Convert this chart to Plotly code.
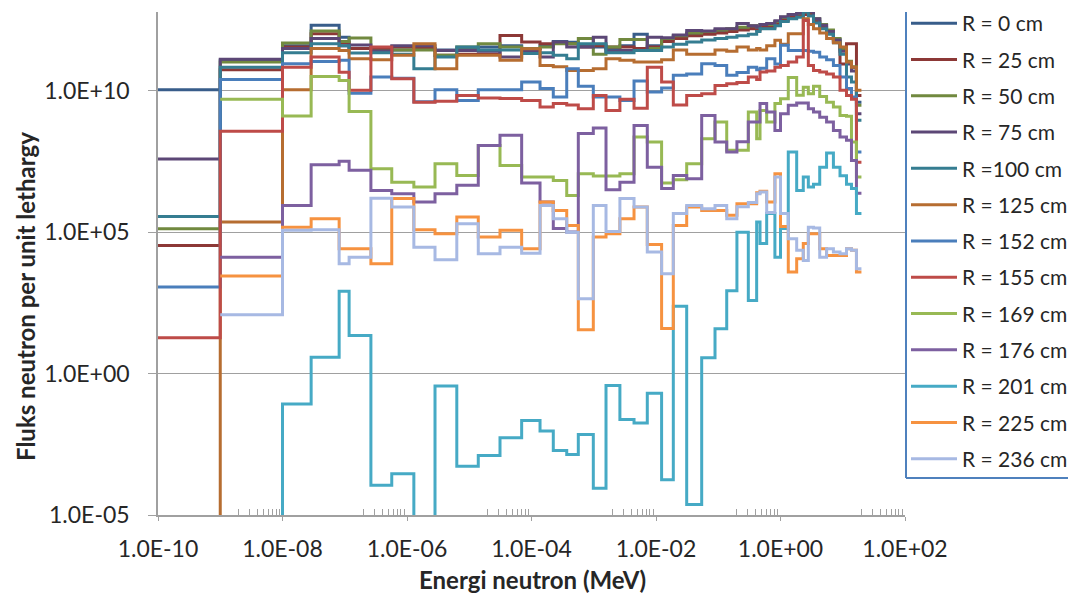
import plotly.graph_objects as go

# Energy group boundaries, log10(E / MeV)
log_energy_edges = [-10, -9, -8, -7.54, -7.09, -6.93, -6.58, -6.245, -5.89, -5.55,
                    -5.20, -4.855, -4.506, -4.158, -3.863, -3.65, -3.434, -3.248, -3.007, -2.803,
                    -2.58, -2.353, -2.14, -1.91, -1.722, -1.507, -1.266, -1.052, -0.864, -0.70,
                    -0.517, -0.383, -0.329, -0.222, -0.09, 0.0, 0.125, 0.26, 0.366, 0.447,
                    0.53, 0.63, 0.74, 0.85, 0.956, 1.06, 1.14, 1.22, 1.30]

# log10 of flux per unit lethargy in each energy group (None = not plotted)
flux_R0 = [10.04, 11.08, 11.6, 12.32, 11.9, 11.5, 11.45, 11.45, 11.5, 11.45, 11.5, 11.55, 11.6, 11.5, 11.6,
           11.75, 11.72, 11.6, 11.55, 11.5, 11.6, 12.0, 11.6,
           11.83, 11.93, 12.03, 12.08, 12.13, 12.18, 12.23, 12.28, 12.23, 12.33, 12.33, 12.43, 12.58, 12.68,
           12.71, 12.78, 12.78, 12.53, 12.33, 12.13, 11.83, 11.48, 11.03, 10.83, 9.6]
flux_R25 = [4.53, 10.75, 11.55, 12.02, 11.7, 11.5, 11.51, 11.55, 11.5, 11.26, 11.3, 11.3, 11.96, 11.73, 11.67,
            11.7, 11.67, 11.55, 11.6, 11.55, 11.55, 11.5, 11.55,
            11.75, 11.85, 11.95, 12.0, 12.05, 12.1, 12.15, 12.2, 12.15, 12.25, 12.25, 12.35, 12.5, 12.6,
            12.63, 12.7, 12.7, 12.45, 12.25, 12.05, 11.75, 10.95, 11.67, 11.67, 9.84]
flux_R50 = [5.125, 11.02, 11.69, 12.12, 11.75, 11.87, 11.4, 11.45, 11.45, 11.26, 11.55, 11.67, 11.55, 11.5, 11.55,
            11.67, 11.67, 11.85, 11.3, 11.55, 11.82, 11.82, 11.5,
            11.85, 11.95, 12.05, 12.1, 12.15, 12.2, 12.25, 12.3, 12.25, 12.35, 12.35, 12.45, 12.6, 12.7,
            12.73, 12.8, 12.8, 12.55, 12.35, 12.15, 11.85, 11.5, 11.05, 10.85, 9.49]
flux_R75 = [7.59, 11.12, 11.5, 11.85, 11.6, 11.62, 11.4, 11.6, 11.6, 11.43, 11.43, 11.4, 11.2, 11.43, 11.2,
            11.73, 11.55, 11.55, 11.9, 11.4, 11.43, 11.43, 11.9,
            11.88, 11.98, 12.14, 12.12, 12.2, 12.2, 12.38, 12.3, 12.25, 12.35, 12.38, 12.48, 12.62, 12.7,
            12.75, 12.85, 12.8, 12.55, 12.32, 12.1, 11.8, 11.4, 10.95, 10.7, 9.19]
flux_R100 = [5.56, 10.84, 11.35, 11.67, 11.6, 11.34, 11.35, 11.3, 10.78, 11.2, 11.55, 11.45, 11.45, 11.32, 11.35,
             11.26, 11.14, 11.67, 11.67, 11.35, 11.35, 11.43, 11.43,
             11.55, 11.65, 11.73, 11.8, 11.85, 11.9, 11.95, 12.0, 12.1, 12.2, 12.2, 12.3, 12.45, 12.55,
             12.6, 12.79, 12.65, 12.4, 12.2, 12.0, 11.7, 11.3, 10.49, 10.31, 8.96]
flux_R125 = [-10, 5.36, 10.04, 11.5, 11.43, 11.14, 11.10, 11.26, 11.67, 10.78, 11.26, 11.26, 11.08, 11.49, 10.90,
             10.85, 10.72, 10.72, 10.78, 11.14, 11.08, 11.02, 11.02,
             11.1, 11.45, 11.3, 11.3, 11.45, 11.4, 11.55, 11.45, 11.5, 11.45, 11.6, 11.79, 11.65, 12.02,
             12.02, 12.55, 12.35, 12.2, 12.05, 11.85, 11.7, 11.55, 11.02, 10.84, 10.02]
flux_R152 = [3.06, 10.40, 10.96, 11.04, 11.08, 9.92, 10.49, 10.45, 9.62, 10.04, 9.66, 10.04, 10.04, 10.31, 10.08,
             9.78, 10.78, 10.16, 9.78, 9.78, 9.66, 10.35, 9.96,
             10.1, 10.55, 10.6, 10.96, 10.9, 10.55, 10.65, 10.84, 10.75, 10.8, 11.14, 10.95, 11.61, 11.43,
             11.43, 11.43, 11.4, 11.37, 11.2, 11.1, 10.9, 10.49, 10.08, 9.78, 7.84]
flux_R155 = [1.27, 8.57, 10.84, 11.20, 10.66, 10.02, 11.55, 10.43, 9.60, 9.63, 9.84, 9.75, 9.73, 9.66, 9.43,
             9.55, 9.5, 9.37, 9.84, 9.31, 9.7, 9.39, 10.84,
             10.31, 9.5, 9.84, 9.9, 10.19, 10.25, 10.3, 10.49, 10.4, 10.67, 10.7, 10.84, 10.9, 11.02,
             11.2, 12.49, 10.9, 10.72, 10.67, 10.6, 10.49, 10.02, 9.84, 9.7, 7.48]
flux_R169 = [None, 9.70, 9.11, 10.51, 10.37, 9.27, 7.25, 6.77, 6.6, 7.42, 7.01, 8.07, 7.36, 6.95, 6.95,
             6.83, 6.30, 7.07, 6.99, 6.99, 7.07, 8.37, 8.19,
             6.74, 6.86, 7.42, 8.31, 8.9, 7.9, 7.9, 9.25, 8.31, 9.31, 8.9, 9.55, 9.72, 10.47,
             9.85, 10.13, 9.9, 10.16, 9.8, 9.6, 9.43, 9.13, 9.1, 8.19, 6.95]
flux_R176 = [None, 4.12, 5.95, 7.39, 7.51, 7.19, 6.48, 6.36, 6.07, 6.36, 6.66, 8.07, 8.43, 6.74, 6.07,
             5.13, 5.01, 8.49, 8.69, 6.5, 6.77, 8.78, 7.30,
             6.55, 7.01, 6.89, 9.13, 8.19, 7.84, 8.2, 8.9, 8.9, 9.55, 9.25, 8.6, 9.19, 9.49,
             9.57, 9.57, 9.37, 9.25, 9.07, 8.9, 8.6, 8.37, 8.25, 7.54, 6.38]
flux_R201 = [None, -10, -1.07, 0.58, 2.91, 1.35, -3.95, -3.54, -10, -0.44, -3.28, -2.9, -2.27, -1.66, -2.03,
             -2.72, -2.86, -2.15, -4.05, -0.42, -1.62, -1.75, -0.69,
             -3.75, 2.38, -4.63, 0.56, 1.59, 2.93, 5.0, 2.59, 5.36, 4.6, 5.66, 4.12, 5.13, 7.84,
             6.48, 6.95, 6.6, 6.7, 7.3, 7.8, 7.3, 7.0, 6.7, 6.55, 5.66]
flux_R225 = [None, 3.45, 5.18, 5.48, 4.42, 4.42, 3.89, 6.19, 5.09, 4.95, 5.54, 4.83, 5.07, 4.42, 6.07,
             5.77, 5.24, 1.55, 4.83, 4.95, 5.48, 5.89, 4.57,
             1.6, 5.24, 5.89, 5.77, 5.77, 5.6, 6.01, 6.01, 6.4, 6.45, 6.07, 7.07, 5.2, 3.59,
             4.06, 4.6, 4.95, 4.95, 4.42, 4.18, 4.18, 4.18, 4.42, 4.36, 3.59]
flux_R236 = [None, 2.08, 5.07, 5.09, 3.89, 4.12, 6.2, 5.89, 4.47, 4.03, 5.30, 4.24, 4.47, 4.26, 5.95,
             5.48, 5.0, 2.65, 5.95, 5.03, 6.19, 5.89, 4.3,
             3.53, 5.66, 5.95, 5.83, 5.95, 5.48, 5.9, 6.05, 6.36, 6.42, 5.7, 6.95, 5.66, 4.77,
             4.36, 4.0, 5.18, 5.15, 4.12, 4.42, 4.3, 4.24, 4.42, 4.36, 3.71]

series_names = ["R = 0 cm", "R = 25 cm", "R = 50 cm", "R = 75 cm", "R =100 cm", "R = 125 cm",
                "R = 152 cm", "R = 155 cm", "R = 169 cm", "R = 176 cm", "R = 201 cm",
                "R = 225 cm", "R = 236 cm"]
series_values = [flux_R0, flux_R25, flux_R50, flux_R75, flux_R100, flux_R125, flux_R152,
                 flux_R155, flux_R169, flux_R176, flux_R201, flux_R225, flux_R236]
series_colors = ["#385D8A", "#8C3836", "#71893F", "#5C4776", "#357D91", "#B66D31",
                 "#4A7EBB", "#BE4B48", "#98B954", "#7D60A0", "#46AAC5", "#F69240", "#A7B9E3"]

x_tick_vals = [1e-10, 1e-8, 1e-6, 1e-4, 1e-2, 1e0, 1e2]
x_tick_text = ["1.0E-10", "1.0E-08", "1.0E-06", "1.0E-04", "1.0E-02", "1.0E+00", "1.0E+02"]
y_tick_vals = [1e-5, 1e0, 1e5, 1e10]
y_tick_text = ["1.0E-05", "1.0E+00", "1.0E+05", "1.0E+10"]
x_minor_vals = [k * 10.0 ** e for e in (-9, -7, -5, -3, -1, 1) for k in range(2, 10)]

fig = go.Figure()
for name, vals, col in zip(series_names, series_values, series_colors):
    xs, ys = [], []
    for i, v in enumerate(vals):
        if v is None:
            continue
        xs.append(10 ** log_energy_edges[i])
        ys.append(10 ** v)
    xs.append(10 ** log_energy_edges[len(vals)])
    ys.append(10 ** vals[-1])
    fig.add_trace(go.Scatter(x=xs, y=ys, mode="lines", name=name, legendgroup=name,
                             line=dict(color=col, width=3, shape="hv")))

W, H = 1068, 596
ML, MR, MT, MB = 158, 163, 12, 81
PW, PH = W - ML - MR, H - MT - MB


def px_x(p):
    return (p - ML) / PW


def px_y(p):
    return (H - MB - p) / PH


grey = "#A0A0A0"
fig.update_layout(
    width=W, height=H,
    margin=dict(l=ML, r=MR, t=MT, b=MB, autoexpand=False),
    paper_bgcolor="white", plot_bgcolor="white",
    font=dict(family="Lato", size=23, color="#262626"),
    legend=dict(x=px_x(906), xanchor="left", y=px_y(3), yanchor="top",
                font=dict(size=21, color="#262626"), itemwidth=46, tracegroupgap=6,
                maxheight=700, bgcolor="rgba(0,0,0,0)", borderwidth=0),
    xaxis=dict(type="log", range=[-10, 2], tickvals=x_tick_vals, ticktext=x_tick_text,
               ticks="outside", ticklen=4, tickcolor=grey, showline=True, linecolor=grey,
               linewidth=1.5, showgrid=False, zeroline=False, ticklabelstandoff=9,
               minor=dict(tickvals=x_minor_vals, ticks="inside", ticklen=6, tickcolor=grey,
                          showgrid=False)),
    yaxis=dict(type="log", range=[-5, 12.79], tickvals=y_tick_vals, ticktext=y_tick_text,
               ticks="outside", ticklen=8, tickcolor=grey, showline=True, linecolor=grey,
               linewidth=1.5, showgrid=True, gridcolor=grey, gridwidth=1, zeroline=False,
               ticklabelstandoff=14),
    annotations=[
        dict(text="<b>Energi neutron (MeV)</b>", xref="paper", yref="paper",
             x=px_x(532), y=px_y(579), xanchor="center", yanchor="middle",
             showarrow=False, font=dict(size=24, color="#262626")),
        dict(text="<b>Fluks neutron per unit lethargy</b>", xref="paper", yref="paper",
             x=px_x(25), y=px_y(297), xanchor="center", yanchor="middle", textangle=-90,
             showarrow=False, font=dict(size=24, color="#262626")),
    ],
    shapes=[
        dict(type="line", xref="paper", yref="paper", x0=px_x(906), x1=px_x(906),
             y0=px_y(12), y1=px_y(478), line=dict(color="#4F81BD", width=2)),
        dict(type="line", xref="paper", yref="paper", x0=px_x(906), x1=px_x(1070),
             y0=px_y(478), y1=px_y(478), line=dict(color="#4F81BD", width=2)),
    ],
)

fig.write_html("out.html")
